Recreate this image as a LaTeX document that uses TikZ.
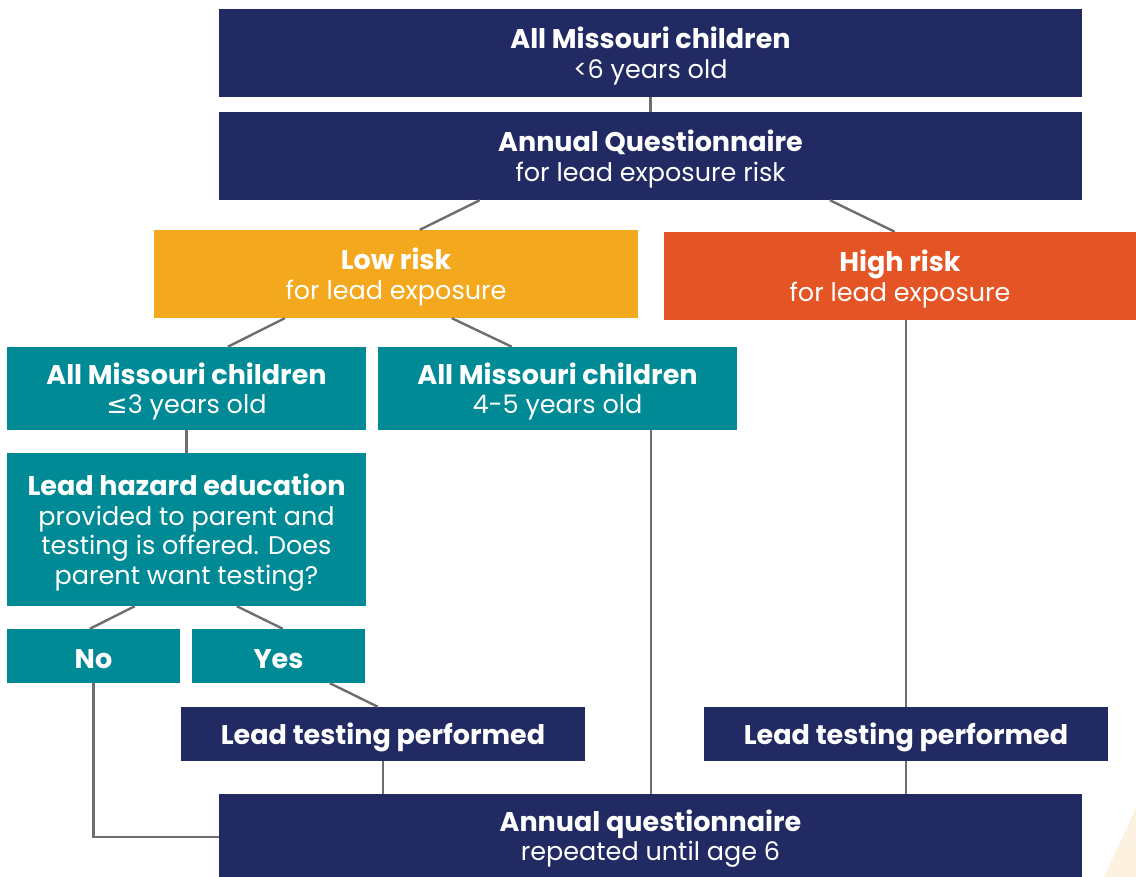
\documentclass[tikz,border=0pt]{standalone}
\usepackage{fontspec}
\setmainfont{Poppins}
\newfontfamily\symfont{DejaVu Sans}
\usetikzlibrary{calc}
\definecolor{navy}{HTML}{212A63}
\definecolor{lowc}{HTML}{F4A81E}
\definecolor{highc}{HTML}{E55424}
\definecolor{tealc}{HTML}{008A96}
\definecolor{linec}{HTML}{6D6E71}
\definecolor{beige}{HTML}{FDF1E0}
\newcommand{\hd}[1]{{\fontsize{27}{29.5}\selectfont\bfseries #1}}
\tikzset{
  box/.style={inner sep=0pt},
  lab/.style={inner sep=0pt, text=white, align=center, yshift=-3pt, font=\fontsize{25.5}{29.5}\selectfont},
  navybox/.style={box, fill=navy},
  lowbox/.style={box, fill=lowc},
  highbox/.style={box, fill=highc},
  tealbox/.style={box, fill=tealc},
  conn/.style={draw=linec, line width=2.4pt},
}
\begin{document}
\begin{tikzpicture}[x=1pt,y=-1pt]
\useasboundingbox (0,0) rectangle (1136,877);
\fill[beige] (1104,877) -- (1136,808) -- (1136,877) -- cycle;
% nodes
\node[navybox, minimum width=863pt, minimum height=88pt, label={[lab]center:{\hd{All Missouri children}\\<6 years old}}] (top) at (650.5,53) {};
\node[navybox, minimum width=863pt, minimum height=88pt, label={[lab]center:{\hd{Annual Questionnaire}\\for lead exposure risk}}] (q) at (650.5,156) {};
\node[lowbox, minimum width=484pt, minimum height=88pt, label={[lab]center:{\hd{Low risk}\\for lead exposure}}] (low) at (396,274) {};
\node[highbox, minimum width=472pt, minimum height=88pt, label={[lab]center:{\hd{High risk}\\for lead exposure}}] (high) at (900,276) {};
\node[tealbox, minimum width=359pt, minimum height=83pt, label={[lab]center:{\hd{All Missouri children}\\{\symfont ≤}3 years old}}] (c3) at (186.5,388.5) {};
\node[tealbox, minimum width=359pt, minimum height=83pt, label={[lab]center:{\hd{All Missouri children}\\4-5 years old}}] (c45) at (557.5,388.5) {};
\node[tealbox, minimum width=359pt, minimum height=153pt, label={[lab]center:{\hd{Lead hazard education}\\provided to parent and\\testing is offered. Does\\parent want testing?}}] (haz) at (186.5,529.5) {};
\node[tealbox, minimum width=173pt, minimum height=54pt, label={[lab]center:{\hd{No}}}] (no) at (93.5,656) {};
\node[tealbox, minimum width=173pt, minimum height=54pt, label={[lab]center:{\hd{Yes}}}] (yes) at (278.5,656) {};
\node[navybox, minimum width=404pt, minimum height=54pt, label={[lab]center:{\hd{Lead testing performed}}}] (ltl) at (383,734) {};
\node[navybox, minimum width=404pt, minimum height=54pt, label={[lab]center:{\hd{Lead testing performed}}}] (ltr) at (906,734) {};
\node[navybox, minimum width=863pt, minimum height=83pt, label={[lab]center:{\hd{Annual questionnaire}\\repeated until age 6}}] (bot) at (650.5,835.5) {};
% connectors
\draw[conn] (top.south) -- (q.north);
\draw[conn] ($(q.south west)+(261,0)$) -- ($(low.north west)+(266,0)$);
\draw[conn] ($(q.south west)+(611,0)$) -- ($(high.north west)+(231,0)$);
\draw[conn] ($(low.south west)+(131,0)$) -- ($(c3.north west)+(221,0)$);
\draw[conn] ($(low.south west)+(298,0)$) -- ($(c45.north west)+(134,0)$);
\draw[conn] (high.south -| ltr.north) -- (ltr.north);
\draw[conn] (c3.south) -- (haz.north);
\draw[conn] ($(haz.south west)+(128,0)$) -- ($(no.north west)+(83,0)$);
\draw[conn] ($(haz.south west)+(230,0)$) -- ($(yes.north west)+(91,0)$);
\draw[conn] (no.south) |- (bot.west |- 0,837);
\draw[conn] ($(yes.south west)+(138,0)$) -- ($(ltl.north west)+(197,0)$);
\draw[conn] (ltl.south) -- (ltl.south |- bot.north);
\draw[conn] (c45.south -| 651,0) -- (bot.north -| 651,0);
\draw[conn] (ltr.south) -- (ltr.south |- bot.north);
\end{tikzpicture}
\end{document}
